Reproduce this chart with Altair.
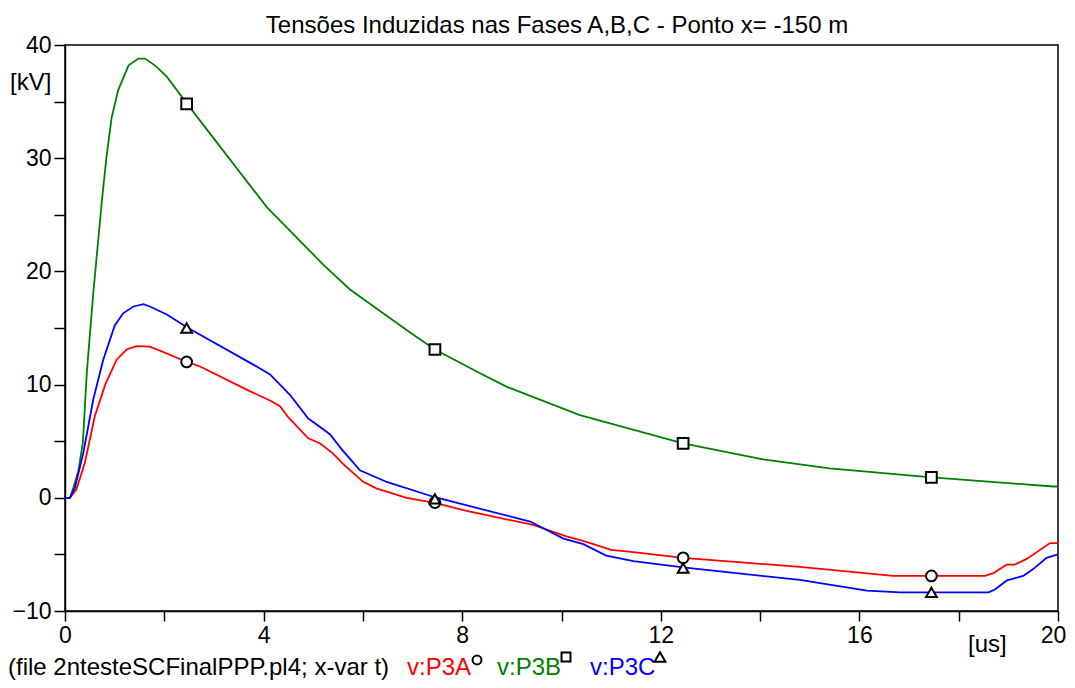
import altair as alt
import pandas as pd

# ---- data ----
t_a = [0, 0.1, 0.23, 0.4, 0.6, 0.81, 1.04, 1.24, 1.44, 1.71, 1.91, 2.46, 2.72, 3.73, 4.13, 4.33, 4.5,
       4.9, 5.14, 5.4, 5.6, 6.0, 6.27, 6.88, 7.45, 8.09, 9.43, 10.1, 10.5, 11.0, 11.45, 12.45, 14.8,
       16.68, 18.53, 18.7, 18.97, 19.13, 19.37, 19.84, 20]
v_a = [0, 0, 0.75, 3.1, 7.2, 10.0, 12.2, 13.1, 13.4, 13.35, 13.0, 12.0, 11.6, 9.4, 8.6, 8.1, 7.1,
       5.25, 4.8, 3.9, 3.0, 1.43, 0.84, 0.0, -0.45, -1.16, -2.4, -3.4, -3.9, -4.6, -4.8, -5.3, -6.1,
       -6.9, -6.9, -6.65, -5.9, -5.9, -5.4, -4.0, -4.0]

t_b = [0, 0.1, 0.17, 0.27, 0.36, 0.44, 0.57, 0.74, 0.83, 0.94, 1.07, 1.28, 1.48, 1.61, 1.81, 2.05,
       2.46, 4.06, 5.2, 5.74, 6.95, 7.45, 8.36, 8.9, 10.37, 12.45, 14.06, 15.4, 17.46, 19.9, 20]
v_b = [0, 0, 0.9, 2.4, 4.9, 11.1, 18.1, 26.1, 29.9, 33.6, 36.0, 38.2, 38.8, 38.8, 38.2, 37.2,
       34.8, 25.7, 20.6, 18.4, 14.6, 13.1, 11.0, 9.8, 7.3, 4.8, 3.4, 2.6, 1.8, 1.0, 1.0]

t_c = [0, 0.1, 0.2, 0.37, 0.57, 0.77, 0.87, 1.0, 1.17, 1.38, 1.58, 1.71, 2.05, 2.48, 3.86, 4.13,
       4.53, 4.9, 5.2, 5.34, 5.57, 5.94, 6.48, 7.45, 9.37, 10.04, 10.44, 10.9, 11.45, 12.45, 14.8,
       16.15, 16.82, 18.6, 18.73, 18.97, 19.3, 19.5, 19.77, 20]
v_c = [0, 0, 0.9, 4.0, 8.7, 12.2, 13.5, 15.2, 16.3, 16.9, 17.1, 16.9, 16.2, 15.0, 11.6, 10.9,
       9.1, 7.0, 6.05, 5.6, 4.3, 2.43, 1.4, 0.05, -2.1, -3.6, -4.1, -5.1, -5.6, -6.15, -7.25,
       -8.2, -8.35, -8.35, -8.1, -7.3, -6.9, -6.3, -5.3, -5.0]

mark_t = [2.45, 7.45, 12.45, 17.45]
mark_a = [12.0, -0.42, -5.3, -6.9]
mark_b = [34.8, 13.1, 4.8, 1.8]
mark_c = [15.0, -0.1, -6.2, -8.35]

series = ["v:P3A", "v:P3B", "v:P3C"]
colors = ["#ff0000", "#008000", "#0000ff"]
shapes = ["circle", "square", "triangle-up"]

x_ticks = list(range(0, 21, 2))
y_ticks = list(range(-10, 41, 5))

title_text = "Tensões Induzidas nas Fases A,B,C - Ponto x= -150 m"
file_text = "(file 2ntesteSCFinalPPP.pl4; x-var t)"

# ---- tables ----
lines_df = pd.concat([
    pd.DataFrame({"t": t_a, "v": v_a, "series": series[0]}),
    pd.DataFrame({"t": t_b, "v": v_b, "series": series[1]}),
    pd.DataFrame({"t": t_c, "v": v_c, "series": series[2]}),
])
marks_df = pd.concat([
    pd.DataFrame({"t": mark_t, "v": mark_a, "series": series[0]}),
    pd.DataFrame({"t": mark_t, "v": mark_b, "series": series[1]}),
    pd.DataFrame({"t": mark_t, "v": mark_c, "series": series[2]}),
])

FONT = "Liberation Sans"
W, H = 993, 566

x_scale = alt.Scale(domain=[0, 20], nice=False, zero=False)
y_scale = alt.Scale(domain=[-10, 40], nice=False, zero=False)

x_axis = alt.Axis(values=x_ticks, labelExpr="datum.value % 4 == 0 ? datum.label : ''",
                  title=None, grid=False, tickSize=10, tickWidth=1.5, tickColor="black",
                  domainColor="black", domainWidth=1.5, labelFontSize=23, labelFont=FONT,
                  labelColor="black", labelPadding=3, labelFlush=False, labelOverlap=False,
                  labelOffset={"condition": {"test": "datum.value == 20", "value": -5}, "value": 0})
y_axis = alt.Axis(values=y_ticks, labelExpr="datum.value % 10 == 0 ? datum.label : ''",
                  title=None, grid=False, tickSize=11, tickWidth=1.5, tickColor="black",
                  domainColor="black", domainWidth=1.5, labelFontSize=23, labelFont=FONT,
                  labelColor="black", labelPadding=3, labelFlush=False, labelOverlap=False)

color_enc = alt.Color("series:N", scale=alt.Scale(domain=series, range=colors), legend=None)
shape_enc = alt.Shape("series:N", scale=alt.Scale(domain=series, range=shapes), legend=None)
size_enc = alt.Size("series:N", scale=alt.Scale(domain=series, range=[115, 115, 165]), legend=None)

lines = alt.Chart(lines_df).mark_line(strokeWidth=1.8, clip=True).encode(
    x=alt.X("t:Q", scale=x_scale, axis=x_axis),
    y=alt.Y("v:Q", scale=y_scale, axis=y_axis),
    color=color_enc,
)

points = alt.Chart(marks_df).mark_point(filled=True, fill="white", stroke="black",
                                         strokeWidth=2, opacity=1).encode(
    x=alt.X("t:Q", scale=x_scale),
    y=alt.Y("v:Q", scale=y_scale),
    shape=shape_enc,
    size=size_enc,
)

one = alt.Data(values=[{}])


def label(txt, x, y, color="black", align="left", size=24):
    return alt.Chart(one).mark_text(text=txt, font=FONT, fontSize=size, color=color,
                                    align=align, baseline="middle").encode(
        x=alt.value(x), y=alt.value(y))


def sym(shape, x, y, size=80):
    return alt.Chart(one).mark_point(shape=shape, filled=True, fill="white", stroke="black",
                                      strokeWidth=2, size=size, opacity=1).encode(
        x=alt.value(x), y=alt.value(y))


texts = [
    label(title_text, 492, -19, align="center", size=24),
    label("[kV]", -55, 38),
    label("[us]", 903, 600),
    label(file_text, -57, 623),
    label("v:P3A", 342, 623, colors[0]),
    sym("circle", 412, 615),
    label("v:P3B", 432, 623, colors[1]),
    sym("square", 501, 612),
    label("v:P3C", 525, 623, colors[2]),
    sym("triangle-up", 595, 612, 115),
]

chart = alt.layer(lines, points, *texts).properties(
    width=W, height=H,
    autosize="none",
    padding={"left": 57, "top": 37, "right": 9, "bottom": 77},
).configure_view(stroke="black", strokeWidth=1.5)

chart.save("out.html", embed_options={"renderer": "svg", "actions": False})
